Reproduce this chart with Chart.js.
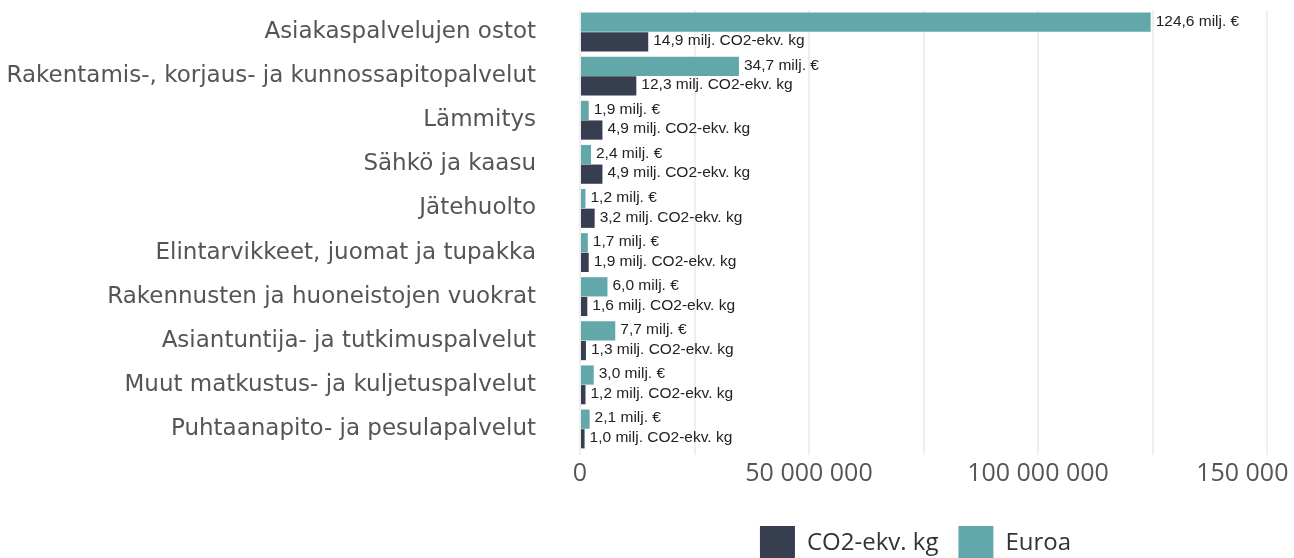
<!DOCTYPE html>
<html>
<head>
<meta charset="utf-8">
<script src="https://cdn.jsdelivr.net/npm/chart.js@4/dist/chart.umd.min.js"></script>
<style>
  html, body { margin: 0; padding: 0; background: #fff; overflow: hidden; }
  #wrap { width: 1294px; height: 571px; position: relative; }
</style>
</head>
<body>
<div id="wrap"><canvas id="chart"></canvas></div>
<script>
// Hankintojen kustannukset ja päästöt

const categories = [
  "Asiakaspalvelujen ostot",
  "Rakentamis-, korjaus- ja kunnossapitopalvelut",
  "Lämmitys",
  "Sähkö ja kaasu",
  "Jätehuolto",
  "Elintarvikkeet, juomat ja tupakka",
  "Rakennusten ja huoneistojen vuokrat",
  "Asiantuntija- ja tutkimuspalvelut",
  "Muut matkustus- ja kuljetuspalvelut",
  "Puhtaanapito- ja pesulapalvelut",
];

// millions
const euroValues = [124.6, 34.7, 1.9, 2.4, 1.2, 1.7, 6.0, 7.7, 3.0, 2.1];
const co2Values = [14.9, 12.3, 4.9, 4.9, 3.2, 1.9, 1.6, 1.3, 1.2, 1.0];

const xTickLabels = ["0", "50 000 000", "100 000 000", "150 000 000"];

const TEAL = "#62a8ab";
const NAVY = "#373e50";

function fmt(v) {
  return v.toFixed(1).replace(".", ",");
}

const valueLabels = {
  id: "valueLabels",
  afterDatasetsDraw(chart) {
    const ctx = chart.ctx;
    ctx.save();
    ctx.font = '15.5px "Liberation Sans", Arial, sans-serif';
    ctx.fillStyle = "#222";
    ctx.textBaseline = "middle";
    chart.data.datasets.forEach((ds, i) => {
      chart.getDatasetMeta(i).data.forEach((bar, j) => {
        const txt = fmt(ds.raw[j]) + " milj. " + ds.unit;
        ctx.fillText(txt, bar.x + 5, bar.y - 1);
      });
    });
    ctx.restore();
  },
};

// center the legend under the plot area instead of the whole canvas
const legendUnderArea = {
  id: "legendUnderArea",
  afterLayout(chart) {
    const lg = chart.legend;
    if (!lg) return;
    lg.left = chart.chartArea.left - 8;
    lg.right = chart.chartArea.right - 8;
  },
};

new Chart(document.getElementById("chart"), {
  type: "bar",
  data: {
    labels: categories,
    datasets: [
      {
        label: "Euroa",
        raw: euroValues,
        unit: "€",
        data: euroValues.map((v) => v * 1e6),
        backgroundColor: TEAL,
        categoryPercentage: 0.89,
        barPercentage: 0.98,
      },
      {
        label: "CO2-ekv. kg",
        raw: co2Values,
        unit: "CO2-ekv. kg",
        data: co2Values.map((v) => v * 1e6),
        backgroundColor: NAVY,
        categoryPercentage: 0.89,
        barPercentage: 0.98,
      },
    ],
  },
  options: {
    indexAxis: "y",
    responsive: true,
    maintainAspectRatio: false,
    animation: false,
    layout: {
      padding: { top: 10, right: 27, left: 0, bottom: 0 },
    },
    plugins: {
      tooltip: { enabled: false },
      legend: {
        position: "bottom",
        reverse: true,
        labels: {
          boxWidth: 35,
          boxHeight: 35,
          padding: 20,
          color: "#333",
          font: { family: '"Open Sans", sans-serif', size: 24 },
        },
      },
    },
    scales: {
      x: {
        min: 0,
        max: 150e6,
        ticks: {
          stepSize: 25e6,
          autoSkip: false,
          color: "#555",
          padding: 4,
          maxRotation: 0,
          font: { family: '"Open Sans", sans-serif', size: 25 },
          callback: (v) => (v % 50e6 === 0 ? xTickLabels[v / 50e6] : ""),
        },
        grid: { color: "#efefef", lineWidth: 2, drawTicks: true, tickLength: 4 },
        border: { display: false },
        afterFit(scale) {
          scale.paddingRight = 0;
          scale.height += 13;
        },
      },
      y: {
        ticks: {
          color: "#555",
          padding: 36,
          font: { family: '"DejaVu Sans", sans-serif', size: 23 },
        },
        grid: { display: false },
        border: { display: false },
        afterFit(scale) {
          scale.width = 580;
          scale.paddingTop = 0;
          scale.paddingBottom = 0;
        },
      },
    },
  },
  plugins: [valueLabels, legendUnderArea],
});
</script>
</body>
</html>
